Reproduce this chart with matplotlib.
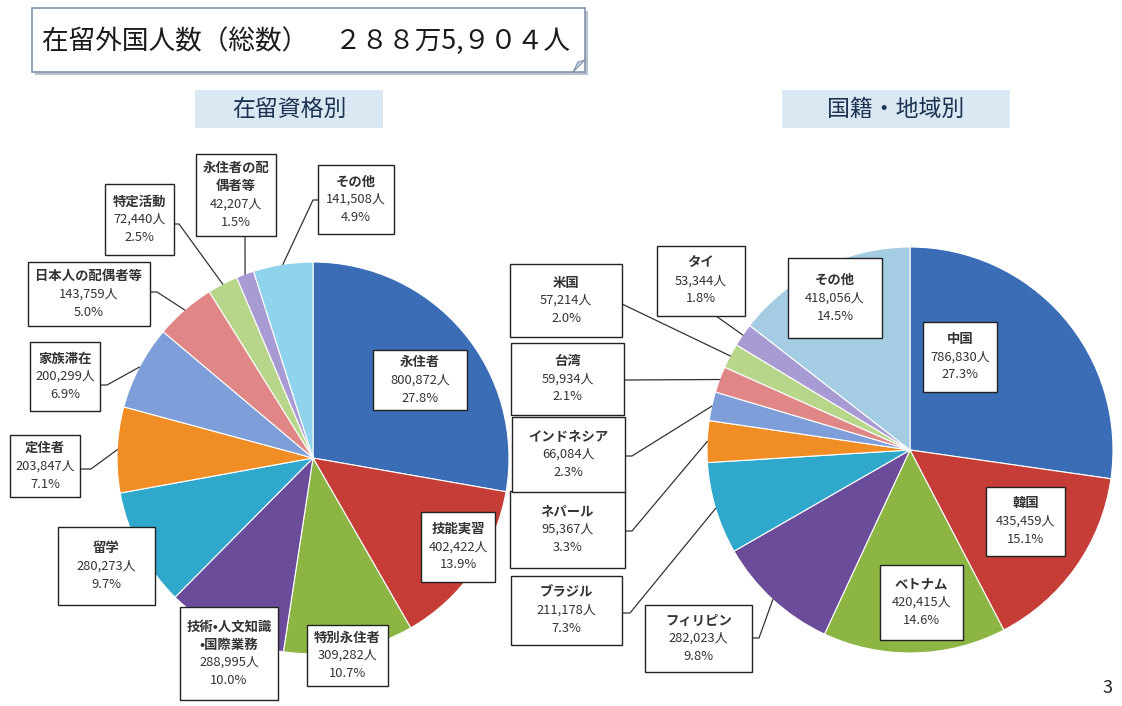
import numpy as np
import matplotlib
matplotlib.use('Agg')
import matplotlib.pyplot as plt
from matplotlib.patches import Rectangle, Polygon

plt.rcParams['font.family'] = ['Noto Sans CJK JP', 'DejaVu Sans']

# 在留資格別
status_labels = ['永住者', '技能実習', '特別永住者', '技術•人文知識\n•国際業務', '留学', '定住者',
                 '家族滞在', '日本人の配偶者等', '特定活動', '永住者の配\n偶者等', 'その他']
status_counts = [800872, 402422, 309282, 288995, 280273, 203847,
                 200299, 143759, 72440, 42207, 141508]
status_pcts = ['27.8%', '13.9%', '10.7%', '10.0%', '9.7%', '7.1%',
               '6.9%', '5.0%', '2.5%', '1.5%', '4.9%']

# 国籍・地域別
nation_labels = ['中国', '韓国', 'ベトナム', 'フィリピン', 'ブラジル', 'ネパール',
                 'インドネシア', '台湾', '米国', 'タイ', 'その他']
nation_counts = [786830, 435459, 420415, 282023, 211178, 95367,
                 66084, 59934, 57214, 53344, 418056]
nation_pcts = ['27.3%', '15.1%', '14.6%', '9.8%', '7.3%', '3.3%',
               '2.3%', '2.1%', '2.0%', '1.8%', '14.5%']

colors = ['#3a6db5', '#c63d37', '#8cb543', '#6b4c9a', '#2fa8cc', '#f08d25',
          '#7d9ed8', '#e08686', '#b8d68a', '#a89ad2', '#8fd3ec']
colors_r = colors[:10] + ['#a4cde3']

fig = plt.figure(figsize=(11.22, 7.06), dpi=100)
ax = fig.add_axes([0, 0, 1, 1])


def draw_pie(values, cols, center, r):
    # y axis is inverted below, so start at -90 and go counterclock in data space
    ax.pie(values, colors=cols, startangle=-90, counterclock=True, center=center, radius=r,
           wedgeprops=dict(edgecolor='white', linewidth=0.8))
    tot = float(sum(values))
    cum = np.cumsum([0] + list(values))[:-1]
    mids = np.deg2rad(-90 + 360 * (cum + np.array(values) / 2.0) / tot)
    return [(center[0] + r * np.cos(a), center[1] + r * np.sin(a)) for a in mids]


def label_box(x0, y0, x1, y1, name, count, pct):
    ax.add_patch(Rectangle((x0, y0), x1 - x0, y1 - y0, fc='white', ec='#222222', lw=1.0, zorder=5))
    name_lines = name.split('\n')
    lines = name_lines + [format(count, ',') + '人', pct]
    step = 18
    ymid = (y0 + y1) / 2
    for k, s in enumerate(lines):
        y = ymid + (k - (len(lines) - 1) / 2.0) * step
        ax.text((x0 + x1) / 2, y, s, ha='center', va='center',
                fontsize=9.6 if k < len(name_lines) else 9.3,
                fontweight='bold' if k < len(name_lines) else 'normal',
                color='#333333', zorder=6)


left_pts = draw_pie(status_counts, colors, (313, 458), 196)
right_pts = draw_pie(nation_counts, colors_r, (910, 450), 203)

ax.set_xlim(0, 1122)
ax.set_ylim(706, 0)
ax.set_aspect('auto')
ax.axis('off')

# label boxes (x0, y0, x1, y1) in pixel space
left_boxes = [(373, 350, 467, 410), (421, 512, 495, 582), (307, 625, 388, 686),
              (180, 607, 278, 700), (58, 527, 155, 605), (10, 435, 80, 497),
              (30, 342, 100, 411), (28, 262, 150, 326), (105, 184, 174, 255),
              (196, 154, 276, 236), (318, 165, 394, 234)]
right_boxes = [(923, 322, 997, 392), (986, 487, 1065, 556), (880, 565, 963, 640),
               (645, 605, 752, 672), (511, 576, 622, 645), (510, 491, 625, 568),
               (512, 417, 625, 492), (511, 343, 624, 415), (510, 264, 622, 337),
               (657, 246, 745, 316), (788, 258, 882, 338)]

# leader lines: index -> (anchor on box, elbow)
left_leaders = {5: [(80, 469), (91, 469)], 6: [(100, 385), (107, 385)],
                7: [(150, 292), (157, 292)], 8: [(174, 224), (179, 224)],
                9: [(245, 236)], 10: [(318, 200), (313, 200)]}
right_leaders = {3: [(752, 638), (759, 638)], 4: [(622, 613), (630, 613)],
                 5: [(625, 531), (632, 531)], 6: [(625, 456), (632, 456)],
                 7: [(624, 380)], 8: [(622, 304)], 9: [(716, 316)]}

for leaders, pts in ((left_leaders, left_pts), (right_leaders, right_pts)):
    for i, path in leaders.items():
        xs = [p[0] for p in path] + [pts[i][0]]
        ys = [p[1] for p in path] + [pts[i][1]]
        ax.plot(xs, ys, color='#333333', lw=0.9, zorder=4)

for b, n, c, p in zip(left_boxes, status_labels, status_counts, status_pcts):
    label_box(*b, n, c, p)
for b, n, c, p in zip(right_boxes, nation_labels, nation_counts, nation_pcts):
    label_box(*b, n, c, p)

# title box with shadow and folded corner
ax.add_patch(Rectangle((35, 11), 553, 64, fc='#b9c3d0', ec='none', zorder=1))
ax.add_patch(Rectangle((32, 8), 553, 64, fc='white', ec='#8193ad', lw=1.2, zorder=2))
ax.add_patch(Polygon([(585, 60), (573, 72), (578, 62)], closed=True, fc='#c9d3e0', ec='#8193ad',
                     lw=0.8, zorder=3))
ax.text(42, 41, '在留外国人数（総数）　２８８万5,９０４人', ha='left', va='center',
        fontsize=19.2, color='#1a1a1a', zorder=3)

# section headers
ax.add_patch(Rectangle((195, 90), 188, 38, fc='#dae8f4', ec='none'))
ax.text(289, 109, '在留資格別', ha='center', va='center', fontsize=16.5, color='#1b3350')
ax.add_patch(Rectangle((782, 90), 228, 38, fc='#dae8f4', ec='none'))
ax.text(896, 109, '国籍・地域別', ha='center', va='center', fontsize=16.5, color='#1b3350')

ax.text(1108, 688, '3', ha='center', va='center', fontsize=13, color='#222222')

fig.savefig('out.png', dpi=100)
